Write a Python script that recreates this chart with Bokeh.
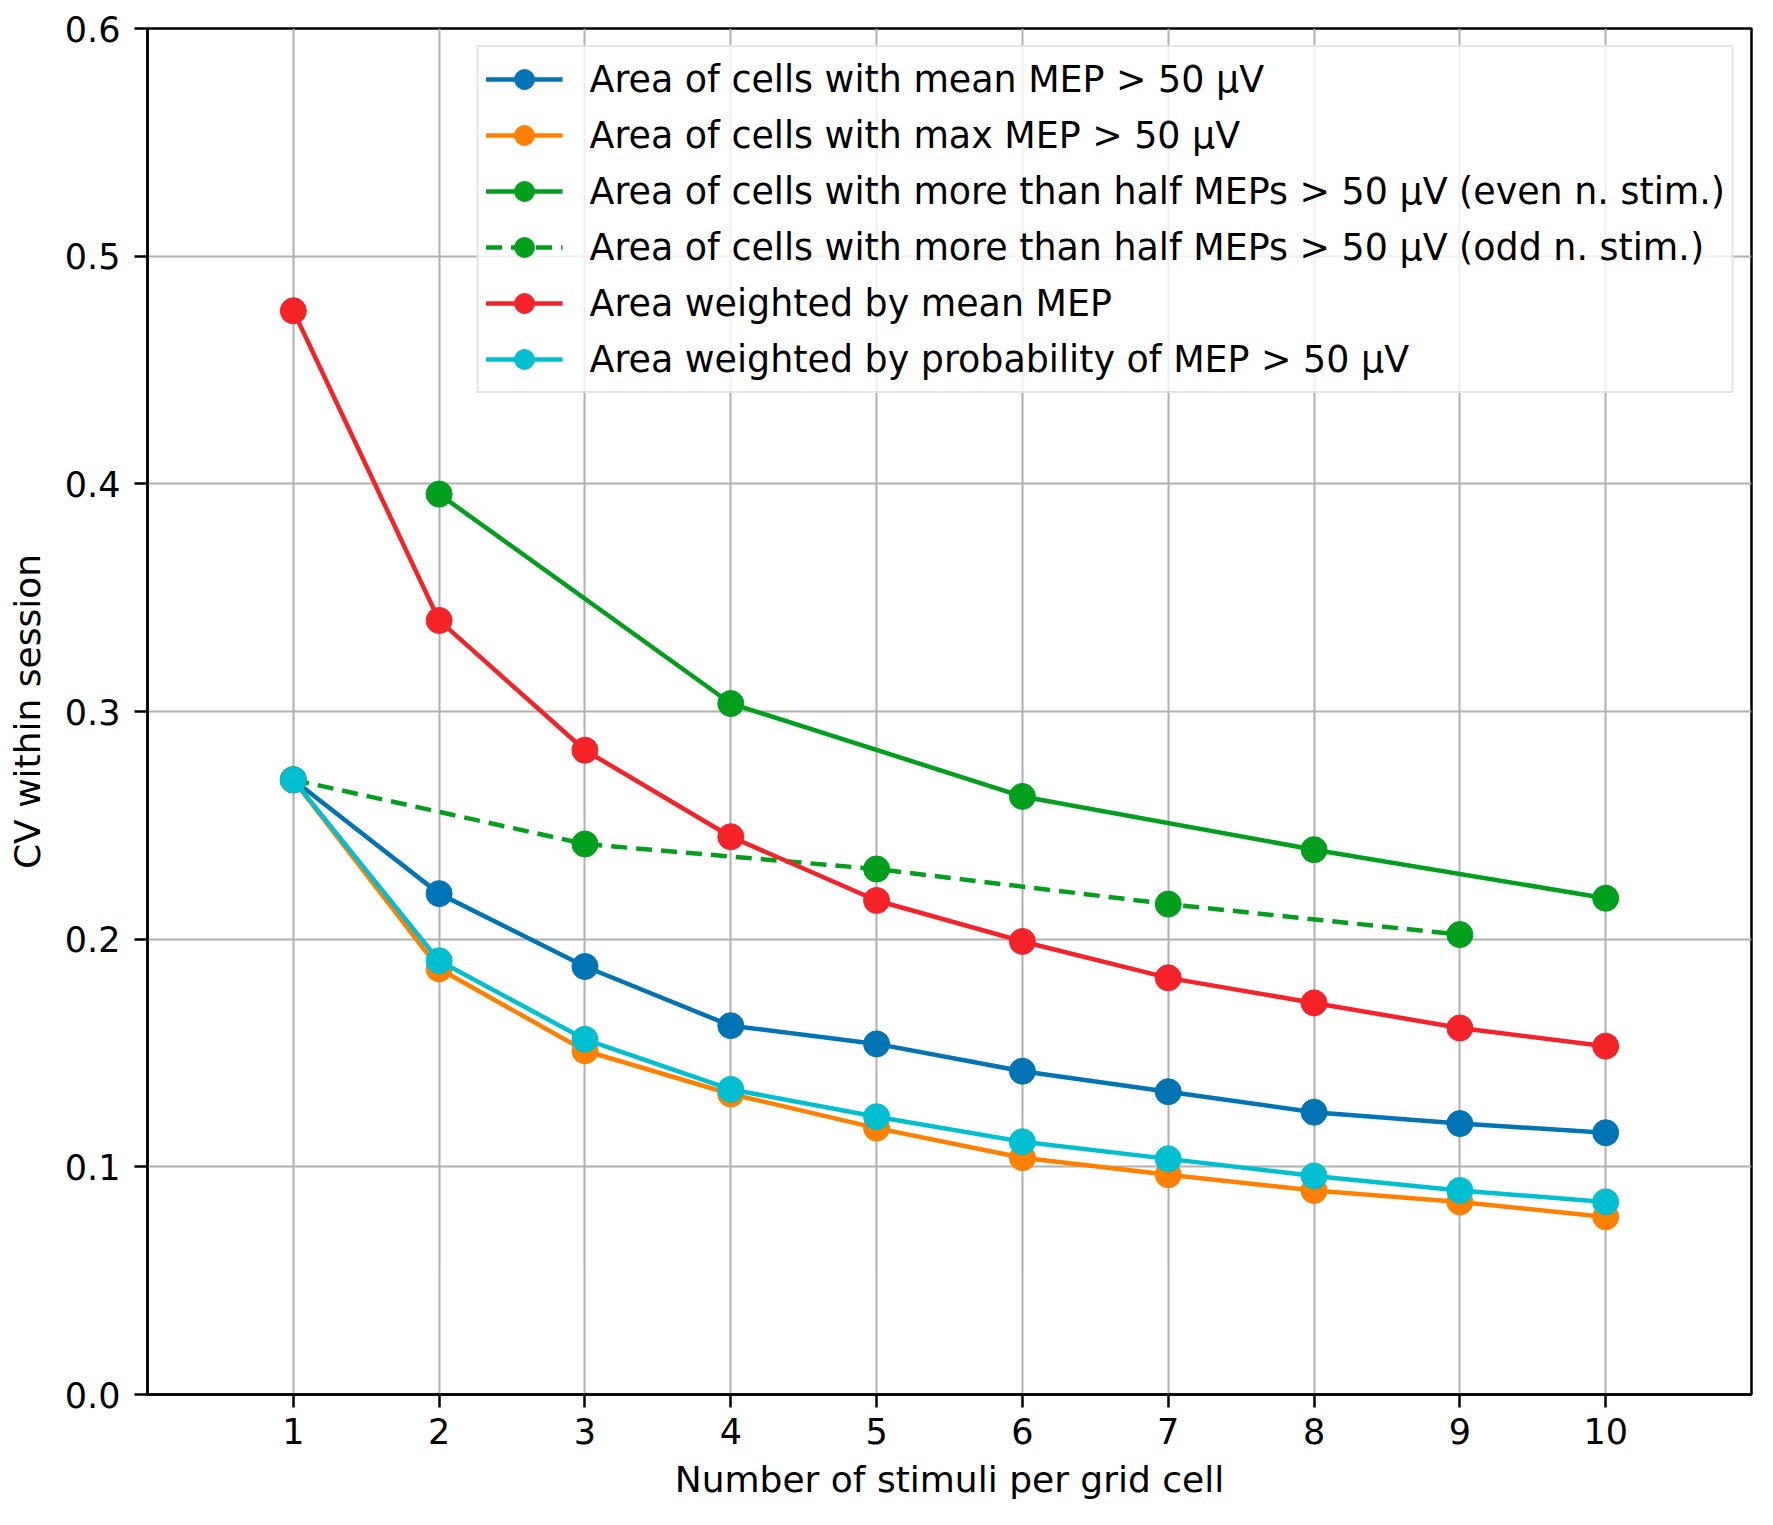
from bokeh.plotting import figure
from bokeh.models import Range1d, FixedTicker, NumeralTickFormatter
from bokeh.embed import file_html
from bokeh.resources import INLINE

# ---- data ----
n_stim = [1, 2, 3, 4, 5, 6, 7, 8, 9, 10]
n_even = [2, 4, 6, 8, 10]
n_odd = [1, 3, 5, 7, 9]

cv_mean_mep = [0.270, 0.220, 0.188, 0.162, 0.154, 0.142, 0.133, 0.124, 0.119, 0.115]
cv_max_mep = [0.270, 0.187, 0.151, 0.132, 0.117, 0.104, 0.0965, 0.0896, 0.0846, 0.078]
cv_half_even = [0.3955, 0.3035, 0.2627, 0.2393, 0.218]
cv_half_odd = [0.270, 0.2418, 0.2308, 0.2154, 0.202]
cv_weight_mean = [0.476, 0.340, 0.283, 0.245, 0.217, 0.199, 0.183, 0.172, 0.161, 0.153]
cv_weight_prob = [0.270, 0.1905, 0.156, 0.134, 0.122, 0.111, 0.1035, 0.096, 0.0896, 0.0846]

labels = [
    "Area of cells with mean MEP > 50 μV",
    "Area of cells with max MEP > 50 μV",
    "Area of cells with more than half MEPs > 50 μV (even n. stim.)",
    "Area of cells with more than half MEPs > 50 μV (odd n. stim.)",
    "Area weighted by mean MEP",
    "Area weighted by probability of MEP > 50 μV",
]
colors = ["#0174b5", "#ff8000", "#00a01c", "#00a01c", "#f52228", "#00bfd0"]

x_ticks = [1, 2, 3, 4, 5, 6, 7, 8, 9, 10]
y_ticks = [0.0, 0.1, 0.2, 0.3, 0.4, 0.5, 0.6]

FONT = "DejaVu Sans"

p = figure(
    width=1765, height=1519,
    frame_width=1604, frame_height=1366,
    min_border_left=147, min_border_top=28, min_border_right=14, min_border_bottom=125,
    x_range=Range1d(0, 11), y_range=Range1d(0, 0.6),
    output_backend="svg", toolbar_location=None,
    x_axis_label="Number of stimuli per grid cell",
    y_axis_label="CV within session",
)
p.background_fill_color = "white"
p.border_fill_color = "white"
p.outline_line_color = "black"
p.outline_line_width = 2.5
p.outline_line_alpha = 1.0

for ax in (p.xaxis[0], p.yaxis[0]):
    ax.axis_line_color = "black"
    ax.axis_line_width = 2.5
    ax.major_tick_line_color = "black"
    ax.major_tick_line_width = 2.5
    ax.major_tick_out = 13
    ax.major_tick_in = 0
    ax.minor_tick_line_color = None
    ax.major_label_text_font = FONT
    ax.major_label_text_font_size = "35px"
    ax.major_label_text_color = "black"
    ax.axis_label_text_font = FONT
    ax.axis_label_text_font_size = "36px"
    ax.axis_label_text_font_style = "normal"
    ax.axis_label_text_color = "black"

p.xaxis.ticker = FixedTicker(ticks=x_ticks)
p.yaxis.ticker = FixedTicker(ticks=y_ticks)
p.yaxis.formatter = NumeralTickFormatter(format="0.0")
p.xaxis.major_label_standoff = 10
p.xaxis.axis_label_standoff = 12
p.yaxis.major_label_standoff = 14
p.yaxis.axis_label_standoff = 14

p.xgrid.ticker = FixedTicker(ticks=x_ticks)
p.ygrid.ticker = FixedTicker(ticks=y_ticks)
for g in (p.xgrid[0], p.ygrid[0]):
    g.grid_line_color = "#b0b0b0"
    g.grid_line_width = 2

series = [
    (n_stim, cv_mean_mep, "solid"),
    (n_stim, cv_max_mep, "solid"),
    (n_even, cv_half_even, "solid"),
    (n_odd, cv_half_odd, "dashed"),
    (n_stim, cv_weight_mean, "solid"),
    (n_stim, cv_weight_prob, "solid"),
]
for (xs, ys, dash), lab, col in zip(series, labels, colors):
    p.line(xs, ys, line_color=col, line_width=4.5, line_dash=("16 9" if dash == "dashed" else "solid"),
           legend_label=lab)
    p.scatter(xs, ys, marker="circle", size=26, fill_color=col, line_color=col,
              legend_label=lab)

leg = p.legend[0]
leg.location = "top_right"
leg.margin = 17
leg.padding = 7
leg.spacing = 6
leg.glyph_width = 77
leg.glyph_height = 50
leg.label_height = 50
leg.label_standoff = 27
leg.label_text_font = FONT
leg.label_text_font_size = "36.4px"
leg.label_text_color = "black"
leg.border_line_color = "#cccccc"
leg.border_line_width = 2.5
leg.background_fill_color = "white"
leg.background_fill_alpha = 0.8

open("out.html", "w").write(file_html(p, INLINE))
